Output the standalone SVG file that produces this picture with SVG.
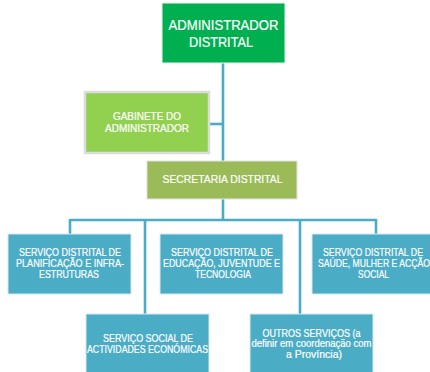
<svg xmlns="http://www.w3.org/2000/svg" width="430" height="372" viewBox="0 0 430 372">
<style>
text{font-family:"Liberation Sans",Arial,sans-serif;fill:#ffffff;text-anchor:middle;stroke:#ffffff;stroke-width:0.2}
.t14{font-size:14px}
.t11{font-size:11px}
.t10{font-size:10.5px}
.blue{fill:#4bacc6;stroke:#d6eaf0;stroke-width:1}
.ln{stroke:#4bacc6;stroke-width:2.6;fill:none}
</style>
<rect width="430" height="372" fill="#ffffff"/>
<g id="connectors">
<line class="ln" x1="223" y1="63" x2="223" y2="161"/>
<line class="ln" x1="209" y1="124" x2="223" y2="124"/>
<line class="ln" x1="223" y1="199" x2="223" y2="220"/>
<line class="ln" x1="70" y1="220" x2="376" y2="220"/>
<line class="ln" x1="70" y1="219" x2="70" y2="234"/>
<line class="ln" x1="376" y1="219" x2="376" y2="234"/>
<line class="ln" x1="145" y1="219" x2="145" y2="314"/>
<line class="ln" x1="300" y1="219" x2="300" y2="314"/>
</g>
<g id="administrador">
<rect x="162" y="3" width="123" height="60" fill="#00b050" stroke="#e8f5ec" stroke-width="1"/>
<text class="t14" x="223.5" y="30" textLength="110" lengthAdjust="spacingAndGlyphs">ADMINISTRADOR</text>
<text class="t14" x="221" y="46.5" textLength="64" lengthAdjust="spacingAndGlyphs">DISTRITAL</text>
</g>
<g id="gabinete">
<rect x="85" y="92" width="124" height="61" fill="#92d050" stroke="#dcdcdc" stroke-width="2.5"/>
<text class="t10" x="147" y="120" textLength="68" lengthAdjust="spacingAndGlyphs">GABINETE DO</text>
<text class="t10" x="147" y="132" textLength="84" lengthAdjust="spacingAndGlyphs">ADMINISTRADOR</text>
</g>
<g id="secretaria">
<rect x="147" y="161" width="150" height="38" fill="#9bbb59" stroke="#e2e2e2" stroke-width="1"/>
<text class="t11" x="222.5" y="183" textLength="120" lengthAdjust="spacingAndGlyphs">SECRETARIA DISTRITAL</text>
</g>
<g id="planificacao">
<rect class="blue" x="8" y="234" width="123" height="60"/>
<text class="t11" x="70" y="256" textLength="102" lengthAdjust="spacingAndGlyphs">SERVIÇO DISTRITAL DE</text>
<text class="t11" x="70" y="267" textLength="108" lengthAdjust="spacingAndGlyphs">PLANIFICAÇÃO E INFRA-</text>
<text class="t11" x="69" y="278" textLength="60" lengthAdjust="spacingAndGlyphs">ESTRUTURAS</text>
</g>
<g id="educacao">
<rect class="blue" x="160" y="234" width="123" height="60"/>
<text class="t11" x="222" y="256" textLength="102" lengthAdjust="spacingAndGlyphs">SERVIÇO DISTRITAL DE</text>
<text class="t11" x="221.5" y="267" textLength="117" lengthAdjust="spacingAndGlyphs">EDUCAÇÃO, JUVENTUDE E</text>
<text class="t11" x="223" y="278" textLength="56" lengthAdjust="spacingAndGlyphs">TECNOLOGIA</text>
</g>
<g id="saude">
<rect class="blue" x="312" y="234" width="124" height="60"/>
<text class="t11" x="373" y="256" textLength="100" lengthAdjust="spacingAndGlyphs">SERVIÇO DISTRITAL DE</text>
<text class="t11" x="374" y="267" textLength="112" lengthAdjust="spacingAndGlyphs">SAÚDE, MULHER E ACÇÃO</text>
<text class="t11" x="373.5" y="278" textLength="31" lengthAdjust="spacingAndGlyphs">SOCIAL</text>
</g>
<g id="actividades">
<rect class="blue" x="86" y="314" width="123" height="62"/>
<text class="t11" x="148" y="342" textLength="90" lengthAdjust="spacingAndGlyphs">SERVIÇO SOCIAL DE</text>
<text class="t11" x="147.5" y="353" textLength="121" lengthAdjust="spacingAndGlyphs">ACTIVIDADES ECONÓMICAS</text>
</g>
<g id="outros">
<rect class="blue" x="250" y="314" width="123" height="62"/>
<text class="t10" x="311.5" y="337" textLength="98" lengthAdjust="spacingAndGlyphs">OUTROS SERVIÇOS (a</text>
<text class="t10" x="311.5" y="347" textLength="120" lengthAdjust="spacingAndGlyphs">definir em coordenação com</text>
<text class="t10" x="314" y="357.5" textLength="56" lengthAdjust="spacingAndGlyphs">a Província)</text>
</g>
</svg>
